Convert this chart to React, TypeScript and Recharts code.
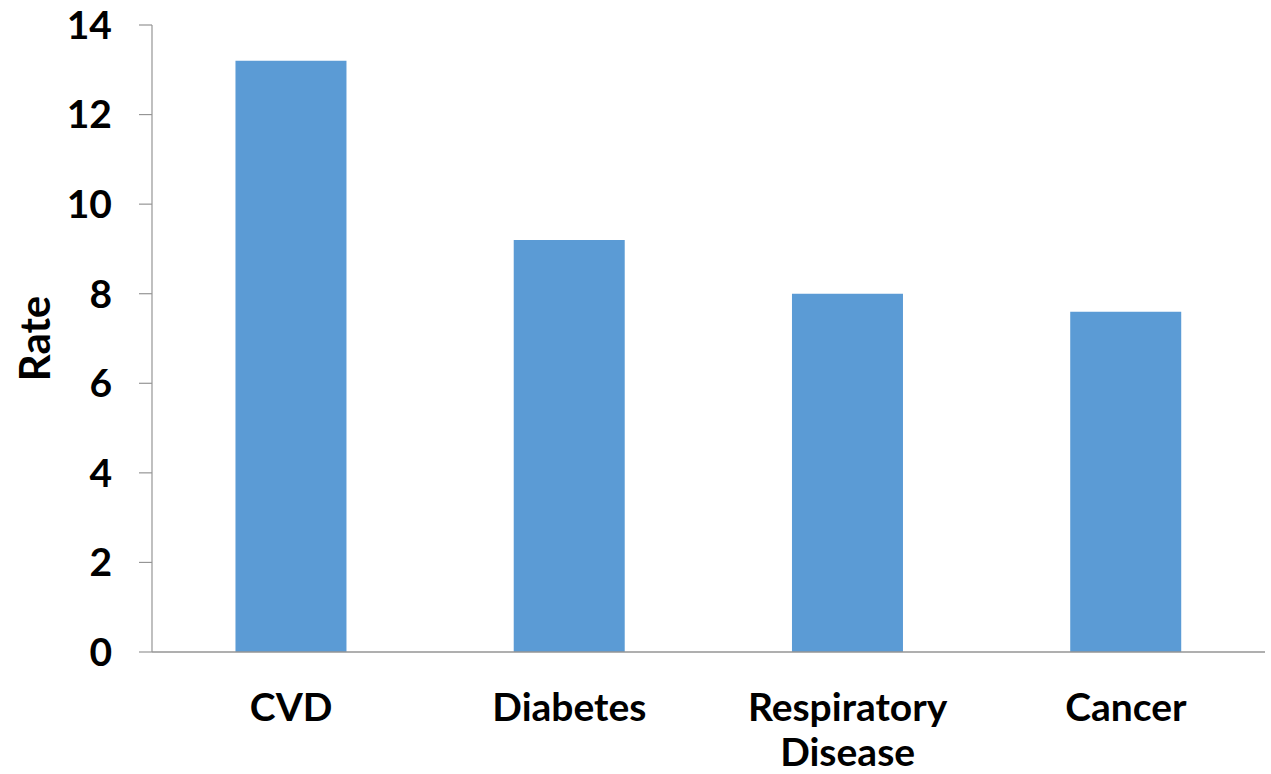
import React from 'react';
import { BarChart, Bar, XAxis, YAxis } from 'recharts';

const categories = ['CVD', 'Diabetes', 'Respiratory Disease', 'Cancer'];
const rates = [13.2, 9.2, 8.0, 7.6];
const yTicks = [0, 2, 4, 6, 8, 10, 12, 14];
const yAxisTitle = 'Rate';

const data = categories.map((c, i) => ({ category: c, rate: rates[i] }));

const FONT = 'Lato, "Open Sans", sans-serif';
const AXIS_COLOR = '#959595';
const TICK_FONT_SIZE = 39;
const MAX_LABEL_WIDTH = 240;

function wrapWords(label: string): string[] {
  const words = String(label).split(' ');
  const lines: string[] = [];
  let current = '';
  const est = (s: string) => s.length * 0.55 * TICK_FONT_SIZE;
  for (const w of words) {
    const candidate = current ? current + ' ' + w : w;
    if (current && est(candidate) > MAX_LABEL_WIDTH) {
      lines.push(current);
      current = w;
    } else {
      current = candidate;
    }
  }
  if (current) lines.push(current);
  return lines;
}

function XTick(props: any) {
  const { x, y, payload } = props;
  const lines = wrapWords(payload.value);
  return (
    <text
      x={x}
      y={y}
      textAnchor="middle"
      fontFamily={FONT}
      fontWeight={700}
      fontSize={TICK_FONT_SIZE}
      fill="#000"
    >
      {lines.map((l, i) => (
        <tspan key={i} x={x} dy={i === 0 ? '0.71em' : 45}>
          {l}
        </tspan>
      ))}
    </text>
  );
}

function YTitle(props: any) {
  const vb = props.viewBox || { x: 0, y: 25, width: 152, height: 627 };
  const cx = 34;
  const cy = vb.y + vb.height / 2;
  return (
    <text
      x={cx}
      y={cy}
      transform={`rotate(-90, ${cx}, ${cy})`}
      textAnchor="middle"
      dominantBaseline="central"
      fontFamily={FONT}
      fontWeight={700}
      fontSize={42}
      fill="#000"
    >
      {yAxisTitle}
    </text>
  );
}

export default function App() {
  return (
    <div style={{ position: 'absolute', left: 0, top: 0, background: '#fff' }}>
      <BarChart
        width={1271}
        height={774}
        data={data}
        margin={{ top: 25, right: 6, left: 0, bottom: 0 }}
        barCategoryGap="30%"
      >
        <XAxis
          dataKey="category"
          height={122}
          interval={0}
          tickLine={false}
          tickSize={0}
          tickMargin={41}
          axisLine={{ stroke: AXIS_COLOR, strokeWidth: 1.5 }}
          tick={<XTick />}
        />
        <YAxis
          width={152}
          domain={[0, 14]}
          ticks={yTicks}
          interval={0}
          tickSize={13}
          tickMargin={27}
          axisLine={{ stroke: AXIS_COLOR, strokeWidth: 1.2 }}
          tickLine={{ stroke: AXIS_COLOR, strokeWidth: 1.2 }}
          tick={{ fontFamily: FONT, fontWeight: 700, fontSize: TICK_FONT_SIZE, fill: '#000' }}
          label={{ content: (p: any) => <YTitle {...p} /> }}
        />
        <Bar dataKey="rate" fill="#5B9BD5" isAnimationActive={false} />
      </BarChart>
    </div>
  );
}
